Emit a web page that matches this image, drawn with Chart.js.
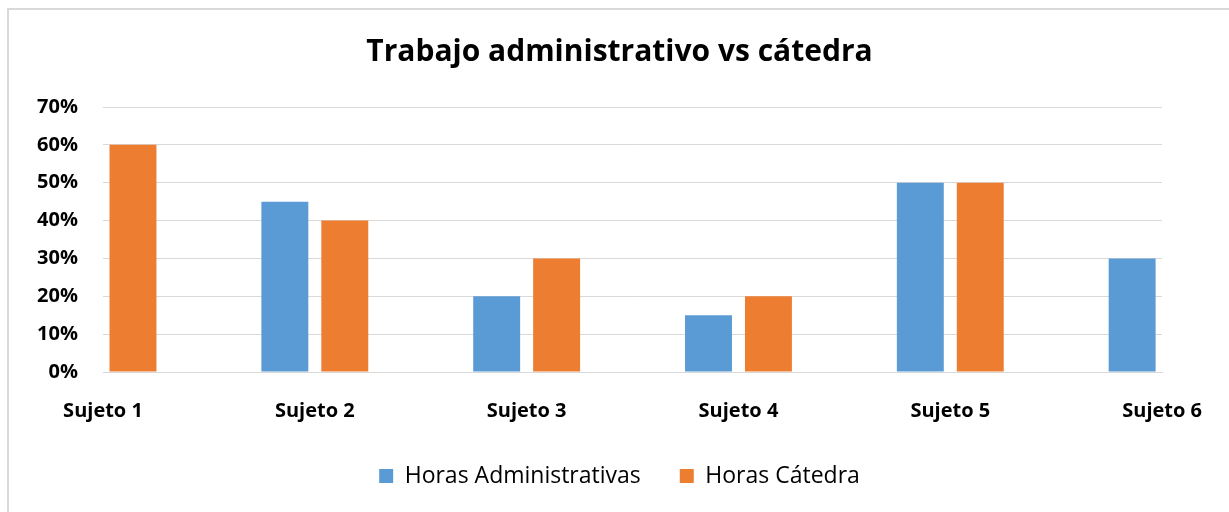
<!DOCTYPE html>
<html>
<head>
<meta charset="utf-8">
<script src="https://cdn.jsdelivr.net/npm/chart.js@4.4.0/dist/chart.umd.min.js"></script>
<style>
  html, body { margin: 0; padding: 0; background: #fff; overflow: hidden; }
  #wrap { position: absolute; left: 0; top: 0; width: 1229px; height: 512px; }
  #frame { position: absolute; left: 7px; top: 8px; width: 1240px; height: 520px;
           border: 2px solid #d9d9d9; pointer-events: none; }
</style>
</head>
<body>
<div id="wrap"><canvas id="grafico"></canvas></div>
<div id="frame"></div>
<script>
const sujetos = ['Sujeto 1', 'Sujeto 2', 'Sujeto 3', 'Sujeto 4', 'Sujeto 5', 'Sujeto 6'];
const horasAdministrativas = [0, 45, 20, 15, 50, 30];
const horasCatedra = [60, 40, 30, 20, 50, 0];
const ticksY = [0, 10, 20, 30, 40, 50, 60, 70];

const fuente = '"Open Sans", Calibri, sans-serif';

const ctx = document.getElementById('grafico').getContext('2d');
new Chart(ctx, {
  type: 'bar',
  data: {
    labels: sujetos,
    datasets: [{
      label: 'Horas Administrativas',
      data: horasAdministrativas,
      backgroundColor: '#5b9bd5'
    }, {
      label: 'Horas Cátedra',
      data: horasCatedra,
      backgroundColor: '#ed7d31'
    }]
  },
  options: {
    responsive: true,
    maintainAspectRatio: false,
    animation: false,
    categoryPercentage: 0.566,
    barPercentage: 0.783,
    layout: { padding: { left: 10, right: 0, top: 0, bottom: 14.5 } },
    plugins: {
      title: {
        display: true,
        text: 'Trabajo administrativo vs cátedra',
        color: '#000',
        font: { family: fuente, size: 30, weight: 'bold' },
        padding: { top: 34, bottom: 37 }
      },
      legend: {
        position: 'bottom',
        labels: {
          color: '#000',
          font: { family: fuente, size: 23 },
          boxWidth: 14,
          boxHeight: 14,
          padding: 39
        }
      },
      tooltip: { enabled: false }
    },
    scales: {
      x: {
        offset: false,
        afterFit: (scale) => { scale.height = 53.5; },
        grid: { display: false, drawTicks: false },
        border: { color: '#d9d9d9', width: 1 },
        ticks: {
          color: '#000',
          font: { family: fuente, size: 20, weight: 'bold' },
          padding: 27,
          maxRotation: 0,
          autoSkip: false
        }
      },
      y: {
        min: 0,
        max: 70,
        afterBuildTicks: (scale) => { scale.ticks = ticksY.map(v => ({ value: v })); },
        afterFit: (scale) => { scale.width = 93; },
        grid: { color: '#d9d9d9', lineWidth: 1, drawTicks: false },
        border: { display: false },
        ticks: {
          color: '#000',
          font: { family: fuente, size: 20, weight: 'bold' },
          padding: 25,
          callback: (v) => v + '%'
        }
      },
      margenDerecho: {
        type: 'linear',
        position: 'right',
        display: true,
        afterFit: (scale) => { scale.width = 66; },
        grid: { display: false, drawTicks: false },
        border: { display: false },
        ticks: { display: false }
      }
    }
  }
});
</script>
</body>
</html>
